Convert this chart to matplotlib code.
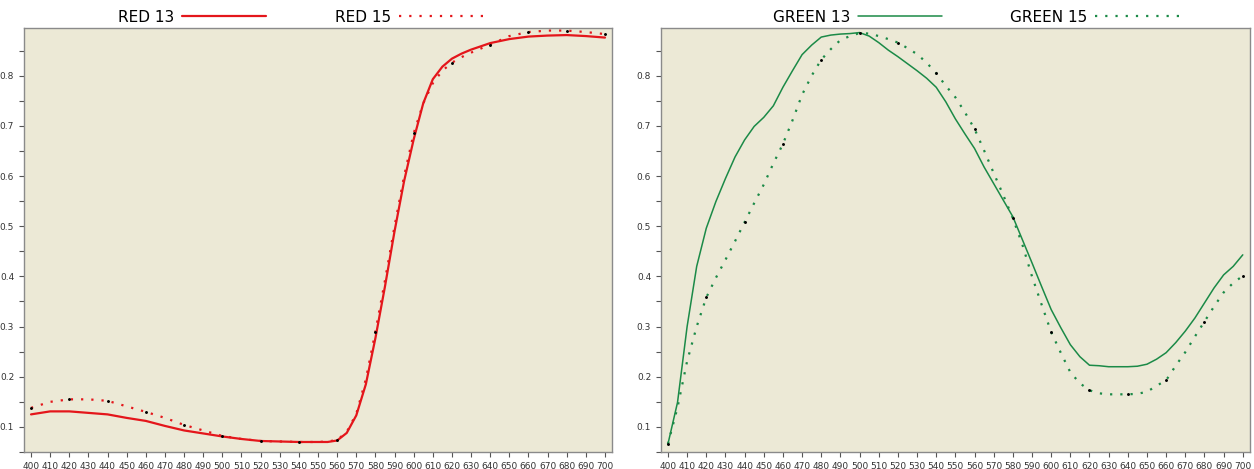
import matplotlib
matplotlib.use('Agg')
import matplotlib.pyplot as plt
import numpy as np

# wavelength (nm) and reflectance values
red_x = [400, 410, 420, 430, 440, 450, 460, 470, 480, 490, 500, 510, 520, 530, 540, 550,
         555, 560, 565, 570, 575, 580, 585, 590, 595, 600, 605, 610, 615, 620,
         625, 630, 640, 650, 660, 670, 680, 690, 700]
red_13 = [0.125, 0.131, 0.131, 0.128, 0.125, 0.118, 0.112, 0.102, 0.093, 0.087, 0.081, 0.076, 0.072, 0.071, 0.070, 0.070,
          0.070, 0.073, 0.088, 0.123, 0.185, 0.277, 0.380, 0.490, 0.590, 0.673, 0.745, 0.793, 0.818, 0.834,
          0.844, 0.852, 0.865, 0.873, 0.878, 0.880, 0.881, 0.879, 0.876]
red_15 = [0.138, 0.150, 0.155, 0.155, 0.152, 0.141, 0.130, 0.118, 0.104, 0.093, 0.082, 0.076, 0.072, 0.071, 0.070, 0.070,
          0.071, 0.074, 0.090, 0.126, 0.195, 0.290, 0.392, 0.500, 0.600, 0.685, 0.745, 0.785, 0.810, 0.826,
          0.837, 0.846, 0.862, 0.879, 0.887, 0.890, 0.890, 0.887, 0.883]

green_x = list(range(400, 701, 5))
green_13 = [0.066, 0.149, 0.300, 0.420, 0.496, 0.549, 0.595, 0.638, 0.672, 0.699,
            0.717, 0.740, 0.777, 0.810, 0.842, 0.861, 0.877, 0.881, 0.883, 0.884,
            0.886, 0.879, 0.866, 0.851, 0.838, 0.824, 0.810, 0.795, 0.777, 0.748,
            0.714, 0.684, 0.655, 0.618, 0.585, 0.552, 0.519, 0.473, 0.427, 0.380,
            0.334, 0.298, 0.264, 0.240, 0.223, 0.222, 0.220, 0.220, 0.220, 0.221,
            0.225, 0.235, 0.248, 0.268, 0.291, 0.317, 0.347, 0.377, 0.403, 0.420,
            0.443]
green_15 = [0.066, 0.139, 0.231, 0.300, 0.358, 0.397, 0.433, 0.470, 0.508, 0.546,
            0.583, 0.625, 0.664, 0.711, 0.762, 0.800, 0.832, 0.853, 0.871, 0.879,
            0.885, 0.884, 0.879, 0.873, 0.866, 0.855, 0.843, 0.826, 0.805, 0.780,
            0.757, 0.727, 0.694, 0.651, 0.606, 0.562, 0.516, 0.463, 0.400, 0.344,
            0.289, 0.248, 0.209, 0.187, 0.173, 0.167, 0.165, 0.165, 0.165, 0.166,
            0.170, 0.182, 0.193, 0.222, 0.249, 0.280, 0.310, 0.340, 0.368, 0.387,
            0.401]

xticks = list(range(400, 701, 10))

RED = '#e4161b'
GREEN = '#1b8a47'
BG = '#ece9d6'

fig = plt.figure(figsize=(12.54, 4.69), dpi=100)
ax_r = fig.add_axes([0.0191, 0.0362, 0.469, 0.904])
ax_g = fig.add_axes([0.527, 0.0362, 0.4697, 0.904])

def style(ax):
    ax.set_facecolor(BG)
    ax.set_xlim(396.3, 703.7)
    ax.set_ylim(0.053, 0.895)
    ax.set_xticks(xticks)
    ax.set_xticklabels([str(t) for t in xticks])
    ax.set_yticks(np.round(np.arange(0.1, 0.81, 0.1), 1))
    ax.set_yticks(np.round(np.arange(0.05, 0.88, 0.05), 2), minor=True)
    ax.tick_params(axis='both', which='both', labelsize=6.5, colors='#555555',
                   labelcolor='#333333', length=3.5, width=0.8)
    for s in ax.spines.values():
        s.set_color('#8a8a8a')
        s.set_linewidth(1.0)

def draw(ax, x, solid, dotted, color, names, lw, anchor_x):
    ax.plot(x, solid, color=color, lw=lw, label=names[0], solid_capstyle='round')
    ax.plot(x, dotted, color=color, lw=1.6, linestyle=(0, (1, 3.6)), label=names[1])
    xs = np.array(x)
    m = xs % 20 == 0
    ax.plot(xs[m], np.array(dotted)[m], 'o', color='black', ms=1.1, ls='none')
    ax.legend(loc='lower center', bbox_to_anchor=(anchor_x, 0.99), ncol=2, frameon=False,
              markerfirst=False, handlelength=5.5, handletextpad=0.5, columnspacing=4.5,
              fontsize=11, borderaxespad=0.1)

style(ax_r)
style(ax_g)
draw(ax_r, red_x, red_13, red_15, RED, ['RED 13', 'RED 15'], 1.6, 0.47)
draw(ax_g, green_x, green_13, green_15, GREEN, ['GREEN 13', 'GREEN 15'], 1.1, 0.535)

fig.savefig('out.png', dpi=100)
